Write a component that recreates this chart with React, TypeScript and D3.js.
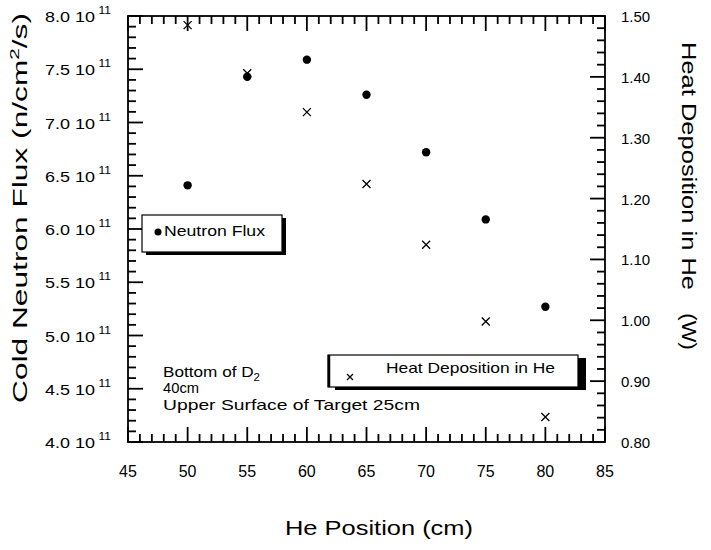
import React from "react";
import * as d3 from "d3";

const positions = [50, 55, 60, 65, 70, 75, 80];
const neutronFlux = [6.41, 7.43, 7.59, 7.26, 6.72, 6.09, 5.27]; // x 10^11 n/cm2/s
const heatDeposition = [1.485, 1.406, 1.342, 1.224, 1.124, 0.998, 0.841]; // W

const xTickValues = [45, 50, 55, 60, 65, 70, 75, 80, 85];
const leftTickValues = [4.0, 4.5, 5.0, 5.5, 6.0, 6.5, 7.0, 7.5, 8.0];
const rightTickValues = [0.8, 0.9, 1.0, 1.1, 1.2, 1.3, 1.4, 1.5];

const FONT = "'Liberation Sans', Arial, Helvetica, sans-serif";

export default function App() {
  const W = 711, H = 550;
  const L = 128, R = 605, T = 16, B = 442;
  const x = d3.scaleLinear().domain([45, 85]).range([L, R]);
  const yL = d3.scaleLinear().domain([4.0, 8.0]).range([B, T]);
  const yR = d3.scaleLinear().domain([0.8, 1.5]).range([B, T]);

  const xMinor = d3.range(45, 86, 1);
  const lMinor = d3.range(40, 81, 1).map((v) => v / 10);
  const rMinor = d3.range(40, 76, 1).map((v) => v / 50);

  const MAJ = 15, MIN = 8;
  const isMajor = (v: number, step: number) => Math.abs(v / step - Math.round(v / step)) < 1e-6;

  return (
    <svg width={W} height={H} style={{ position: "absolute", left: 0, top: 0, background: "#fff" }} fontFamily={FONT}>
      <rect x={0} y={0} width={W} height={H} fill="#fff" />
      {/* ticks as thin rects */}
      <g fill="#000">
        {xMinor.map((v) => {
          const len = isMajor(v, 5) ? MAJ : MIN;
          const px = x(v);
          return (
            <g key={"xt-" + v}>
              <rect x={px - 0.9} y={B - len} width={1.8} height={len} />
              <rect x={px - 0.9} y={T} width={1.8} height={len} />
            </g>
          );
        })}
        {lMinor.map((v) => {
          const len = isMajor(v, 0.5) ? MAJ : MIN;
          return <rect key={"lt-" + v} x={L} y={yL(v) - 0.9} width={len} height={1.8} />;
        })}
        {rMinor.map((v) => {
          const len = isMajor(v, 0.1) ? MAJ : MIN;
          return <rect key={"rt-" + v} x={R - len} y={yR(v) - 0.9} width={len} height={1.8} />;
        })}
      </g>
      {/* frame */}
      <rect x={L} y={T} width={R - L} height={B - T} fill="none" stroke="#000" strokeWidth={1.8} />
      {/* x tick labels */}
      {xTickValues.map((v) => (
        <text key={"xl" + v} x={x(v)} y={477} fontSize={16} textAnchor="middle" fill="#000">
          {String(v)}
        </text>
      ))}
      {/* left tick labels */}
      {leftTickValues.map((v) => (
        <text key={"ll" + v} x={45} y={yL(v) + 6} fontSize={15} fill="#000" textLength={66} lengthAdjust="spacingAndGlyphs">
          {v.toFixed(1) + " 10"}
          <tspan fontSize={10} dx={3} dy={-8}>11</tspan>
        </text>
      ))}
      {/* right tick labels */}
      {rightTickValues.map((v) => (
        <text key={"rl" + v} x={621} y={yR(v) + 6} fontSize={15} fill="#000">
          {v.toFixed(2)}
        </text>
      ))}
      {/* axis titles */}
      <text x={379} y={535} fontSize={21} textAnchor="middle" textLength={188} lengthAdjust="spacingAndGlyphs">
        He Position (cm)
      </text>
      <text transform="translate(27,208) rotate(-90)" fontSize={20} textAnchor="middle" textLength={390} lengthAdjust="spacingAndGlyphs">
        Cold Neutron Flux (n/cm<tspan fontSize={13} dy={-8}>2</tspan><tspan dy={8}>/s)</tspan>
      </text>
      <text transform="translate(682,42) rotate(90)" fontSize={20} textLength={248} lengthAdjust="spacingAndGlyphs">
        Heat Deposition in He
      </text>
      <text transform="translate(682,313) rotate(90)" fontSize={20} textLength={37} lengthAdjust="spacingAndGlyphs">
        (W)
      </text>

      {/* data: neutron flux dots */}
      {positions.map((p, i) => (
        <circle key={"n" + p} cx={x(p)} cy={yL(neutronFlux[i])} r={4.2} fill="#000" />
      ))}
      {/* data: heat deposition crosses */}
      {positions.map((p, i) => {
        const cx = x(p), cy = yR(heatDeposition[i]), s = 4;
        return (
          <path key={"h" + p} d={`M${cx - s},${cy - s}L${cx + s},${cy + s}M${cx - s},${cy + s}L${cx + s},${cy - s}`} stroke="#000" strokeWidth={1.3} fill="none" />
        );
      })}

      {/* legend 1 */}
      <rect x={146} y={218} width={140} height={37} fill="#000" />
      <rect x={142} y={215} width={140} height={37} fill="#fff" stroke="#000" strokeWidth={1.2} />
      <circle cx={158} cy={232} r={3.5} fill="#000" />
      <text x={164} y={236} fontSize={15} textLength={101} lengthAdjust="spacingAndGlyphs">Neutron Flux</text>

      {/* legend 2 */}
      <rect x={335} y={358} width={251} height={32} fill="#000" />
      <rect x={328} y={355} width={250} height={32} fill="#fff" stroke="#000" strokeWidth={1.2} />
      <line x1={329} x2={329} y1={355} y2={387} stroke="#000" strokeWidth={2.5} />
      <path d="M347,374L353,380M347,380L353,374" stroke="#000" strokeWidth={1.2} fill="none" />
      <text x={386} y={373} fontSize={15} textLength={169} lengthAdjust="spacingAndGlyphs">Heat Deposition in He</text>

      {/* annotation */}
      <text x={163} y={377} fontSize={15} textLength={97} lengthAdjust="spacingAndGlyphs">
        Bottom of D<tspan fontSize={10} dy={4}>2</tspan>
      </text>
      <text x={163} y={393} fontSize={14} textLength={36} lengthAdjust="spacingAndGlyphs">40cm</text>
      <text x={163} y={410} fontSize={15} textLength={257} lengthAdjust="spacingAndGlyphs">Upper Surface of Target 25cm</text>
    </svg>
  );
}
